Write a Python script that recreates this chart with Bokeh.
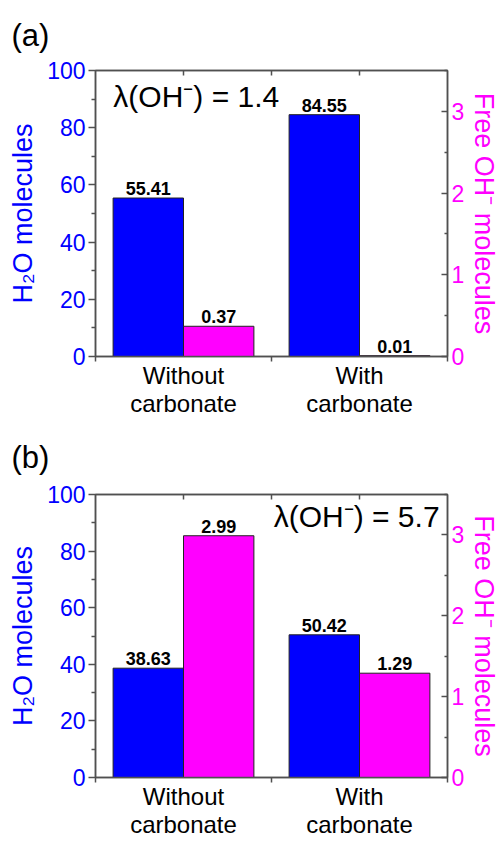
from bokeh.plotting import figure
from bokeh.models import Range1d, LinearAxis, FixedTicker, Label, CustomJSTickFormatter
from bokeh.layouts import column
from bokeh.embed import file_html
from bokeh.resources import INLINE
from bokeh.core.properties import value

# ---- data ----
cat_pos = [1, 2]
cat_labels = ["Without\ncarbonate", "With\ncarbonate"]
h2o_a = [55.41, 84.55]
oh_a = [0.37, 0.01]
h2o_b = [38.63, 50.42]
oh_b = [2.99, 1.29]
lam_a = "λ(OH⁻) = 1.4"
lam_b = "λ(OH⁻) = 5.7"
left_ticks = [0, 20, 40, 60, 80, 100]
left_minor = [10, 30, 50, 70, 90]
right_ticks = [0, 1, 2, 3]
right_minor = [0.5, 1.5, 2.5, 3.5]
top_ticks = [1, 1.5, 2]

FONT = "Liberation Sans"
BLUE = "#0000FF"
MAG = "#FF00FF"
AX = "#505050"

W = 502
BL, BR = 95, 52


def style_lines(ax):
    for a in ("axis_line", "major_tick_line", "minor_tick_line"):
        setattr(ax, a + "_color", AX)
        setattr(ax, a + "_width", 1.5)


def panel(tag, h2o, oh, lam, lam_align, lam_gap_x, lam_gap_y, height, btop, bbottom, tag_standoff):
    fh = height - btop - bbottom
    fw = W - BL - BR
    p = figure(width=W, height=height, output_backend="svg", toolbar_location=None,
               x_range=Range1d(0.5, 2.5), y_range=Range1d(0, 100),
               min_border_left=BL, min_border_right=BR,
               min_border_top=btop, min_border_bottom=bbottom,
               x_axis_type=None, y_axis_type=None)
    p.extra_y_ranges = {"oh": Range1d(0, 3.5)}
    p.grid.visible = False
    p.outline_line_color = AX
    p.outline_line_width = 1.5

    # panel tag as title
    p.title.text = tag
    p.title.align = "left"
    p.title.offset = -84
    p.title.vertical_align = "top"
    p.title.standoff = tag_standoff
    p.title.text_font = FONT
    p.title.text_font_size = "31px"
    p.title.text_font_style = "normal"
    p.title.text_color = "black"

    # left axis
    la = LinearAxis(ticker=FixedTicker(ticks=left_ticks, minor_ticks=left_minor))
    la.axis_label = "H₂O molecules"
    la.axis_label_text_color = BLUE
    la.axis_label_text_font = FONT
    la.axis_label_text_font_size = "27px"
    la.axis_label_text_font_style = "normal"
    la.axis_label_text_line_height = 1.0
    la.axis_label_standoff = 6
    la.major_label_text_color = BLUE
    la.major_label_text_font = FONT
    la.major_label_text_font_size = "23px"
    la.major_label_standoff = 3
    la.major_tick_out = 7
    la.major_tick_in = 0
    la.minor_tick_out = 4
    la.minor_tick_in = 0
    style_lines(la)
    p.add_layout(la, "left")

    # right axis
    ra = LinearAxis(y_range_name="oh", ticker=FixedTicker(ticks=right_ticks, minor_ticks=right_minor))
    ra.axis_label = "Free OH⁻ molecules"
    ra.axis_label_text_color = MAG
    ra.axis_label_text_font = FONT
    ra.axis_label_text_font_size = "27px"
    ra.axis_label_text_font_style = "normal"
    ra.axis_label_text_line_height = 1.0
    ra.axis_label_standoff = 2
    ra.major_label_text_color = MAG
    ra.major_label_text_font = FONT
    ra.major_label_text_font_size = "23px"
    ra.major_label_standoff = 4
    ra.major_tick_in = 6
    ra.major_tick_out = 0
    ra.minor_tick_in = 3
    ra.minor_tick_out = 0
    style_lines(ra)
    p.add_layout(ra, "right")

    # bottom axis (categories)
    ba = LinearAxis(ticker=FixedTicker(ticks=cat_pos, minor_ticks=[0.5, 1.5, 2.5]))
    ba.major_label_overrides = {c: l for c, l in zip(cat_pos, cat_labels)}
    ba.major_label_text_font = FONT
    ba.major_label_text_font_size = "24px"
    ba.major_label_text_line_height = 1.06
    ba.major_label_text_color = "black"
    ba.major_label_standoff = 0
    ba.major_tick_out = 0
    ba.major_tick_in = 0
    ba.minor_tick_out = 5
    ba.minor_tick_in = 0
    style_lines(ba)
    p.add_layout(ba, "below")

    # top mirror ticks
    ta = LinearAxis(ticker=FixedTicker(ticks=top_ticks, minor_ticks=[]),
                    formatter=CustomJSTickFormatter(code="return ''"))
    ta.major_tick_in = 5
    ta.major_tick_out = 0
    ta.major_label_standoff = 0
    style_lines(ta)
    p.add_layout(ta, "above")

    # bars
    xb = [c - 0.2 for c in cat_pos]
    xm = [c + 0.2 for c in cat_pos]
    p.vbar(x=xb, top=h2o, width=0.4, fill_color=BLUE, line_color="#222222", line_width=1)
    p.vbar(x=xm, top=oh, width=0.4, fill_color=MAG, line_color="#222222", line_width=1,
           y_range_name="oh")

    p.text(x=xb, y=h2o, text=[f"{v:.2f}" for v in h2o], text_align="center",
           text_baseline="bottom", y_offset=-3, text_font=value(FONT),
           text_font_style="bold", text_font_size="18px", text_color="black")
    p.text(x=xm, y=oh, text=[f"{v:.2f}" for v in oh], text_align="center",
           text_baseline="bottom", y_offset=-3, text_font=value(FONT),
           text_font_style="bold", text_font_size="18px", text_color="black",
           y_range_name="oh")

    # lambda annotation
    if lam_align == "left":
        lx = 0.5 + lam_gap_x / fw * 2.0
    else:
        lx = 2.5 - lam_gap_x / fw * 2.0
    ly = 100 - lam_gap_y / fh * 100
    p.add_layout(Label(x=lx, y=ly, text=lam, text_align=lam_align,
                       text_baseline="middle", text_font=FONT,
                       text_font_size="30px", text_color="black"))
    return p


pa = panel("(a)", h2o_a, oh_a, lam_a, "left", 18, 26, 420, 70, 64, 31)
pb = panel("(b)", h2o_b, oh_b, lam_b, "right", 8, 22, 421, 74, 64, 35)

layout = column(pa, pb, spacing=0)
open("out.html", "w").write(file_html(layout, INLINE))
